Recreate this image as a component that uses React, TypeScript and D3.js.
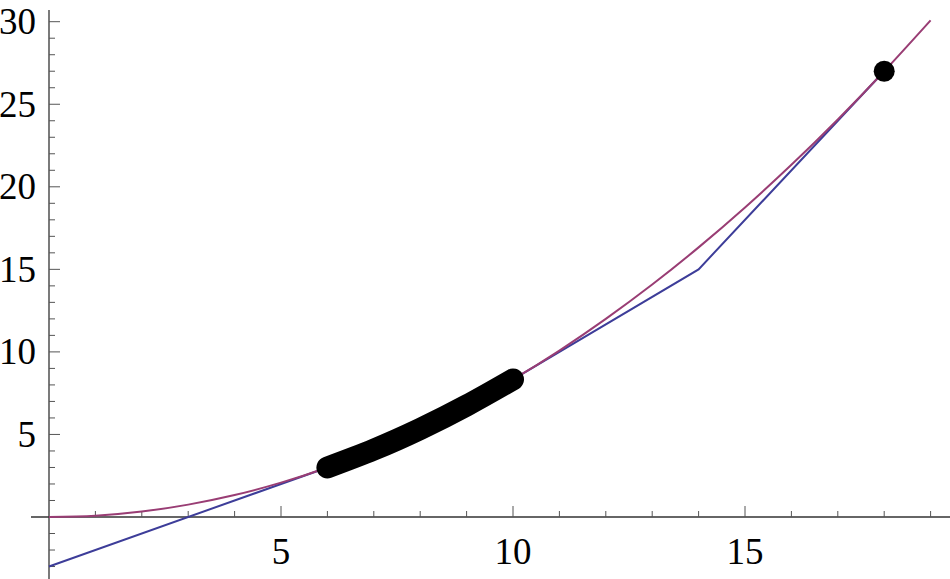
import React from "react";
import { scaleLinear, line, curveNatural, curveLinear } from "d3";

// parabola at whole x steps
const curveX = [0, 1, 2, 3, 4, 5, 6, 7, 8, 9, 10, 11, 12, 13, 14, 15, 16, 17, 18, 19];
const curveY = [0, 0.08, 0.33, 0.75, 1.33, 2.08, 3, 4.08, 5.33, 6.75, 8.33, 10.08, 12, 14.08, 16.33, 18.75, 21.33, 24.08, 27, 30.08];

// blue piecewise tangent line
const tangentX = [0, 6, 7, 8, 9, 10, 14, 18];
const tangentY = [-3, 3, 4.08, 5.33, 6.75, 8.33, 15, 27];

// thick black highlighted segment
const segX = [6, 7, 8, 9, 10];
const segY = [3, 4.08, 5.33, 6.75, 8.33];

const pointX = 18;
const pointY = 27;

const xTickLabels = [5, 10, 15];
const yTickLabels = [5, 10, 15, 20, 25, 30];

const W = 950;
const H = 579;

export default function App() {
  const x = scaleLinear().domain([0, 19]).range([49, 49 + 19 * 46.4]);
  const y = scaleLinear().domain([0, 30]).range([517, 517 - 30 * 16.51]);

  const mk = (xs: number[], ys: number[], c: any) =>
    line<number>()
      .x((d, i) => x(xs[i]))
      .y((d, i) => y(ys[i]))
      .curve(c)(xs) || "";

  const xMinor = [];
  for (let i = 1; i <= 19; i++) xMinor.push(i);
  const yMinor = [];
  for (let i = -3; i <= 30; i++) if (i !== 0) yMinor.push(i);

  const font = "'Liberation Serif', 'Times New Roman', serif";

  return (
    <svg width={W} height={H} style={{ position: "absolute", left: 0, top: 0 }}>
      <rect width={W} height={H} fill="#fff" />

      {/* axes */}
      <line x1={31} x2={950} y1={y(0)} y2={y(0)} stroke="#333" strokeWidth={1.3} />
      <line x1={x(0)} x2={x(0)} y1={10} y2={579} stroke="#333" strokeWidth={1.3} />

      {xMinor.map((t) => {
        const len = t % 5 === 0 ? 11 : 6;
        return <line key={"xt" + t} x1={x(t)} x2={x(t)} y1={y(0)} y2={y(0) - len} stroke="#555" strokeWidth={1} />;
      })}
      {yMinor.map((t) => {
        const len = t % 5 === 0 ? 11 : 6;
        return <line key={"yt" + t} x1={x(0)} x2={x(0) + len} y1={y(t)} y2={y(t)} stroke="#555" strokeWidth={1} />;
      })}

      {xTickLabels.map((t) => (
        <text key={"xl" + t} x={x(t)} y={564} textAnchor="middle" fontFamily={font} fontSize={37} fill="#000">
          {t}
        </text>
      ))}
      {yTickLabels.map((t) => (
        <text key={"yl" + t} x={36} y={y(t)} textAnchor="end" dominantBaseline="central" fontFamily={font} fontSize={37} fill="#000">
          {t}
        </text>
      ))}

      {/* series */}
      <path d={mk(tangentX, tangentY, curveLinear)} fill="none" stroke="#3d3d99" strokeWidth={2} />
      <path d={mk(curveX, curveY, curveNatural)} fill="none" stroke="#993d74" strokeWidth={2} />
      <path d={mk(segX, segY, curveNatural)} fill="none" stroke="#000" strokeWidth={22} strokeLinecap="round" />
      <circle cx={x(pointX)} cy={y(pointY)} r={10.5} fill="#000" />
    </svg>
  );
}
